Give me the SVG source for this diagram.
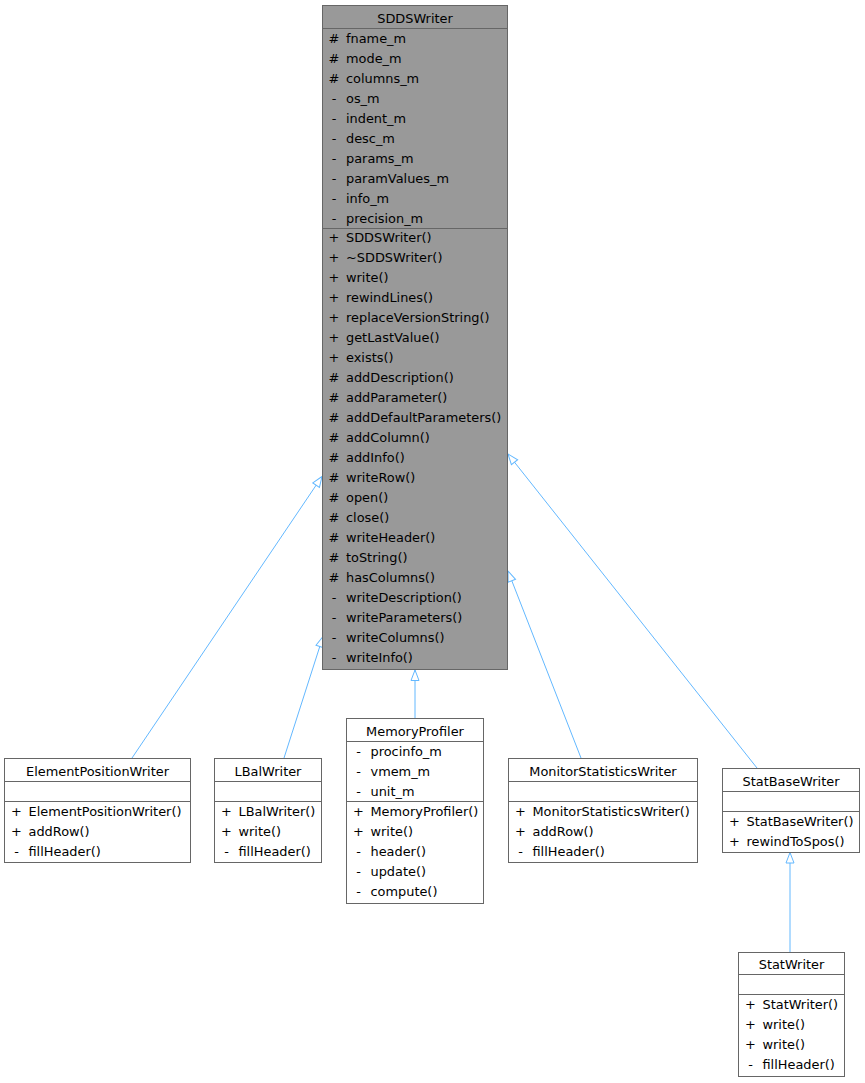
<svg xmlns="http://www.w3.org/2000/svg" width="865" height="1083" viewBox="0 0 865 1083">
<style>
.box{fill:#ffffff;stroke:#666666;stroke-width:1}
.base{fill:#999999;stroke:#666666;stroke-width:1}
.sep{stroke:#666666;stroke-width:1}
text{font-family:"DejaVu Sans",sans-serif;font-size:12.9px;fill:#000000}
.t{text-anchor:middle}
.p{text-anchor:middle}
.edge{stroke:#63b8ff;stroke-width:1;fill:none;marker-end:url(#tri)}
</style>
<defs>
<marker id="tri" markerUnits="userSpaceOnUse" markerWidth="14" markerHeight="12" viewBox="0 0 14 12" refX="12" refY="6" orient="auto">
<path d="M1.5,2 L12,6 L1.5,10 Z" fill="#ffffff" stroke="#63b8ff" stroke-width="1"/>
</marker>
</defs>
<g id="connectors">
<line class="edge" x1="132" y1="758" x2="322" y2="476.5"/>
<line class="edge" x1="284" y1="758" x2="323" y2="636.5"/>
<line class="edge" x1="415" y1="718" x2="415" y2="670"/>
<line class="edge" x1="581" y1="758" x2="508" y2="571"/>
<line class="edge" x1="757" y1="768" x2="508" y2="454"/>
<line class="edge" x1="790" y1="952" x2="790" y2="852.5"/>
</g>
<g id="SDDSWriter">
<rect class="base" x="322.5" y="5.5" width="185" height="664"/>
<line class="sep" x1="322.5" y1="28.5" x2="507.5" y2="28.5"/>
<line class="sep" x1="322.5" y1="228.5" x2="507.5" y2="228.5"/>
<text class="t" x="415" y="22.5">SDDSWriter</text>
<text class="p" x="334" y="42.5">#</text><text x="346" y="42.5">fname_m</text>
<text class="p" x="334" y="62.5">#</text><text x="346" y="62.5">mode_m</text>
<text class="p" x="334" y="82.5">#</text><text x="346" y="82.5">columns_m</text>
<text class="p" x="334" y="102.5">-</text><text x="346" y="102.5">os_m</text>
<text class="p" x="334" y="122.5">-</text><text x="346" y="122.5">indent_m</text>
<text class="p" x="334" y="142.5">-</text><text x="346" y="142.5">desc_m</text>
<text class="p" x="334" y="162.5">-</text><text x="346" y="162.5">params_m</text>
<text class="p" x="334" y="182.5">-</text><text x="346" y="182.5">paramValues_m</text>
<text class="p" x="334" y="202.5">-</text><text x="346" y="202.5">info_m</text>
<text class="p" x="334" y="222.5">-</text><text x="346" y="222.5">precision_m</text>
<text class="p" x="334" y="242">+</text><text x="346" y="242">SDDSWriter()</text>
<text class="p" x="334" y="262">+</text><text x="346" y="262">~SDDSWriter()</text>
<text class="p" x="334" y="282">+</text><text x="346" y="282">write()</text>
<text class="p" x="334" y="302">+</text><text x="346" y="302">rewindLines()</text>
<text class="p" x="334" y="322">+</text><text x="346" y="322">replaceVersionString()</text>
<text class="p" x="334" y="342">+</text><text x="346" y="342">getLastValue()</text>
<text class="p" x="334" y="362">+</text><text x="346" y="362">exists()</text>
<text class="p" x="334" y="382">#</text><text x="346" y="382">addDescription()</text>
<text class="p" x="334" y="402">#</text><text x="346" y="402">addParameter()</text>
<text class="p" x="334" y="422">#</text><text x="346" y="422">addDefaultParameters()</text>
<text class="p" x="334" y="442">#</text><text x="346" y="442">addColumn()</text>
<text class="p" x="334" y="462">#</text><text x="346" y="462">addInfo()</text>
<text class="p" x="334" y="482">#</text><text x="346" y="482">writeRow()</text>
<text class="p" x="334" y="502">#</text><text x="346" y="502">open()</text>
<text class="p" x="334" y="522">#</text><text x="346" y="522">close()</text>
<text class="p" x="334" y="542">#</text><text x="346" y="542">writeHeader()</text>
<text class="p" x="334" y="562">#</text><text x="346" y="562">toString()</text>
<text class="p" x="334" y="582">#</text><text x="346" y="582">hasColumns()</text>
<text class="p" x="334" y="602">-</text><text x="346" y="602">writeDescription()</text>
<text class="p" x="334" y="622">-</text><text x="346" y="622">writeParameters()</text>
<text class="p" x="334" y="642">-</text><text x="346" y="642">writeColumns()</text>
<text class="p" x="334" y="662">-</text><text x="346" y="662">writeInfo()</text>
</g>
<g id="ElementPositionWriter">
<rect class="box" x="4.5" y="758.5" width="186" height="104"/>
<line class="sep" x1="4.5" y1="781.5" x2="190.5" y2="781.5"/>
<line class="sep" x1="4.5" y1="801.5" x2="190.5" y2="801.5"/>
<text class="t" x="97.5" y="776">ElementPositionWriter</text>
<text class="p" x="16.5" y="816">+</text><text x="28.5" y="816">ElementPositionWriter()</text>
<text class="p" x="16.5" y="836">+</text><text x="28.5" y="836">addRow()</text>
<text class="p" x="16.5" y="856">-</text><text x="28.5" y="856">fillHeader()</text>
</g>
<g id="LBalWriter">
<rect class="box" x="214.5" y="758.5" width="107" height="104"/>
<line class="sep" x1="214.5" y1="781.5" x2="321.5" y2="781.5"/>
<line class="sep" x1="214.5" y1="801.5" x2="321.5" y2="801.5"/>
<text class="t" x="268" y="776">LBalWriter</text>
<text class="p" x="226.5" y="816">+</text><text x="238.5" y="816">LBalWriter()</text>
<text class="p" x="226.5" y="836">+</text><text x="238.5" y="836">write()</text>
<text class="p" x="226.5" y="856">-</text><text x="238.5" y="856">fillHeader()</text>
</g>
<g id="MemoryProfiler">
<rect class="box" x="346.5" y="718.5" width="137" height="185"/>
<line class="sep" x1="346.5" y1="741.5" x2="483.5" y2="741.5"/>
<line class="sep" x1="346.5" y1="801.5" x2="483.5" y2="801.5"/>
<text class="t" x="415" y="736">MemoryProfiler</text>
<text class="p" x="358.5" y="756">-</text><text x="370.5" y="756">procinfo_m</text>
<text class="p" x="358.5" y="776">-</text><text x="370.5" y="776">vmem_m</text>
<text class="p" x="358.5" y="796">-</text><text x="370.5" y="796">unit_m</text>
<text class="p" x="358.5" y="816">+</text><text x="370.5" y="816">MemoryProfiler()</text>
<text class="p" x="358.5" y="836">+</text><text x="370.5" y="836">write()</text>
<text class="p" x="358.5" y="856">-</text><text x="370.5" y="856">header()</text>
<text class="p" x="358.5" y="876">-</text><text x="370.5" y="876">update()</text>
<text class="p" x="358.5" y="896">-</text><text x="370.5" y="896">compute()</text>
</g>
<g id="MonitorStatisticsWriter">
<rect class="box" x="508.5" y="758.5" width="189" height="104"/>
<line class="sep" x1="508.5" y1="781.5" x2="697.5" y2="781.5"/>
<line class="sep" x1="508.5" y1="801.5" x2="697.5" y2="801.5"/>
<text class="t" x="603" y="776">MonitorStatisticsWriter</text>
<text class="p" x="520.5" y="816">+</text><text x="532.5" y="816">MonitorStatisticsWriter()</text>
<text class="p" x="520.5" y="836">+</text><text x="532.5" y="836">addRow()</text>
<text class="p" x="520.5" y="856">-</text><text x="532.5" y="856">fillHeader()</text>
</g>
<g id="StatBaseWriter">
<rect class="box" x="722.5" y="768.5" width="137" height="84"/>
<line class="sep" x1="722.5" y1="791.5" x2="859.5" y2="791.5"/>
<line class="sep" x1="722.5" y1="811.5" x2="859.5" y2="811.5"/>
<text class="t" x="791" y="786">StatBaseWriter</text>
<text class="p" x="734.5" y="826">+</text><text x="746.5" y="826">StatBaseWriter()</text>
<text class="p" x="734.5" y="846">+</text><text x="746.5" y="846">rewindToSpos()</text>
</g>
<g id="StatWriter">
<rect class="box" x="738.5" y="952.5" width="106" height="124"/>
<line class="sep" x1="738.5" y1="974.5" x2="844.5" y2="974.5"/>
<line class="sep" x1="738.5" y1="994.5" x2="844.5" y2="994.5"/>
<text class="t" x="791.5" y="968.5">StatWriter</text>
<text class="p" x="750.5" y="1008.5">+</text><text x="762.5" y="1008.5">StatWriter()</text>
<text class="p" x="750.5" y="1028.5">+</text><text x="762.5" y="1028.5">write()</text>
<text class="p" x="750.5" y="1048.5">+</text><text x="762.5" y="1048.5">write()</text>
<text class="p" x="750.5" y="1068.5">-</text><text x="762.5" y="1068.5">fillHeader()</text>
</g>
</svg>
